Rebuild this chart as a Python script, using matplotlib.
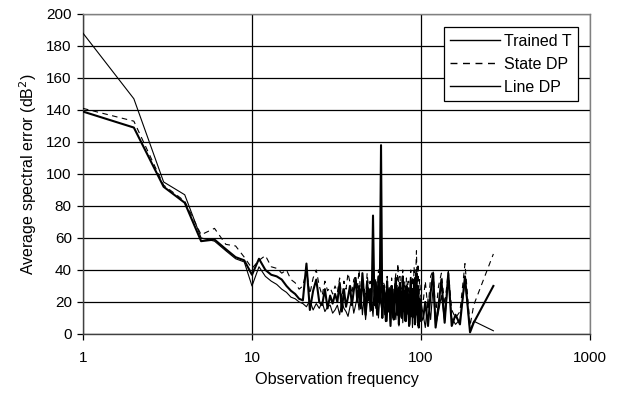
import matplotlib
matplotlib.use("Agg")
import matplotlib.pyplot as plt
from matplotlib.ticker import FixedLocator, FixedFormatter, NullLocator

plt.rcParams['font.family'] = ['Liberation Sans', 'DejaVu Sans']

freq = [1, 2, 3, 4, 5, 6, 7, 8, 9, 10,
        11, 12, 13, 14, 15, 16, 17, 18, 19, 20,
        21, 22, 23, 24, 25, 26, 27, 28, 29, 30,
        31, 32, 33, 34, 35, 36, 37, 38, 39, 40,
        41, 42, 43, 44, 45, 46, 47, 48, 49, 50,
        51, 52, 53, 54, 55, 56, 57, 58, 59, 60,
        61, 62, 63, 64, 65, 66, 67, 68, 69, 70,
        71, 72, 73, 74, 75, 76, 77, 78, 79, 80,
        81, 82, 83, 84, 85, 86, 87, 88, 89, 90,
        91, 92, 93, 94, 95, 96, 97, 98, 99, 100,
        103, 106, 110, 114, 118, 122, 127, 132, 138, 145,
        152, 160, 170, 182, 195, 205, 268]

trained_t = [188, 147, 95, 87, 60, 58, 52, 47, 45, 30,
             42, 36, 33, 31, 28, 26, 23, 22, 20, 19,
             17, 21, 15, 19, 16, 20, 14, 17, 18, 13,
             15, 18, 12, 20, 16, 14, 11, 17, 22, 13,
             18, 24, 15, 28, 12, 22, 9, 19, 26, 14,
             20, 11, 25, 16, 30, 10, 22, 18, 13, 27,
             12, 20, 8, 24, 15, 6, 19, 10, 28, 14,
             9, 22, 16, 5, 20, 11, 25, 7, 18, 13,
             21, 8, 17, 12, 26, 6, 15, 22, 4, 18,
             10, 24, 7, 19, 13, 5, 27, 9, 16, 20,
             12, 4, 22, 9, 30, 5, 14, 24, 8, 34,
             10, 6, 9, 33, 2, 8, 2]

state_dp = [141, 133, 93, 83, 62, 66, 56, 55, 48, 41,
            46, 49, 42, 41, 38, 40, 34, 32, 28, 30,
            40, 25, 35, 40, 30, 24, 33, 27, 29, 25,
            30, 26, 35, 22, 33, 28, 38, 32, 25, 34,
            36, 28, 40, 24, 34, 30, 22, 38, 27, 33,
            26, 38, 23, 35, 20, 40, 28, 34, 18, 32,
            30, 18, 36, 22, 30, 15, 35, 24, 20, 32,
            38, 25, 44, 20, 36, 28, 30, 40, 22, 33,
            20, 35, 28, 33, 18, 30, 40, 24, 36, 26,
            42, 30, 36, 52, 25, 44, 18, 34, 28, 22,
            20, 33, 15, 36, 40, 12, 30, 38, 18, 39,
            15, 10, 14, 44, 5, 18, 50]

line_dp = [139, 129, 92, 82, 58, 59, 53, 48, 46, 37,
           47, 40, 37, 36, 34, 30, 27, 25, 22, 21,
           44, 15, 27, 34, 20, 18, 28, 16, 24, 19,
           25, 20, 32, 14, 28, 17, 23, 30, 18, 27,
           35, 20, 30, 16, 38, 24, 12, 33, 21, 28,
           15, 74, 18, 32, 12, 36, 20, 118, 10, 30,
           25, 8, 33, 14, 28, 5, 30, 18, 9, 26,
           35, 12, 28, 6, 32, 20, 10, 36, 15, 27,
           8, 30, 14, 25, 5, 22, 33, 11, 28, 16,
           34, 6, 26, 38, 12, 30, 4, 22, 14, 8,
           10, 20, 5, 26, 38, 4, 18, 34, 7, 38,
           5, 12, 6, 36, 1, 7, 30]

x_ticks = [1, 10, 100, 1000]
x_tick_labels = ["1", "10", "100", "1000"]
y_ticks = [0, 20, 40, 60, 80, 100, 120, 140, 160, 180, 200]

fig = plt.figure(figsize=(6.22, 3.99), dpi=100)
ax = fig.add_axes([0.1334, 0.163, 0.8152, 0.802])

ax.plot(freq, trained_t, color='black', lw=0.8, label='Trained T', zorder=3)
ax.plot(freq, state_dp, color='black', lw=0.8, ls=(0, (5, 4)), label='State DP', zorder=3)
ax.plot(freq, line_dp, color='black', lw=1.5, label='Line DP', zorder=4)

ax.set_xscale('log')
ax.set_xlim(1, 1000)
ax.set_ylim(0, 200)
ax.xaxis.set_major_locator(FixedLocator(x_ticks))
ax.xaxis.set_major_formatter(FixedFormatter(x_tick_labels))
ax.xaxis.set_minor_locator(NullLocator())
ax.set_yticks(y_ticks)

ax.grid(True, axis='both', color='black', lw=0.9, zorder=1)
ax.set_axisbelow(True)

for s in ['top', 'right']:
    ax.spines[s].set_color('#808080')
    ax.spines[s].set_linewidth(1.0)
for s in ['left', 'bottom']:
    ax.spines[s].set_color('#404040')
    ax.spines[s].set_linewidth(1.0)

ax.tick_params(axis='both', direction='out', length=4, width=0.9,
               labelsize=11, colors='black', pad=4)
ax.tick_params(axis='x', pad=8)

ax.set_xlabel('Observation frequency', fontsize=11.7, labelpad=5)
ax.set_ylabel('Average spectral error (dB$^2$)', fontsize=11.5, labelpad=5)

leg = ax.legend(loc='upper right', bbox_to_anchor=(0.9755, 0.958), fontsize=11.5,
                frameon=True, fancybox=False, edgecolor='black', framealpha=1,
                handlelength=3.1, handletextpad=0.25, borderpad=0.4,
                labelspacing=0.5, borderaxespad=0)
leg.get_frame().set_linewidth(0.9)
for h in leg.get_lines():
    h.set_linewidth(1.0)

fig.savefig('out.png', dpi=100)
